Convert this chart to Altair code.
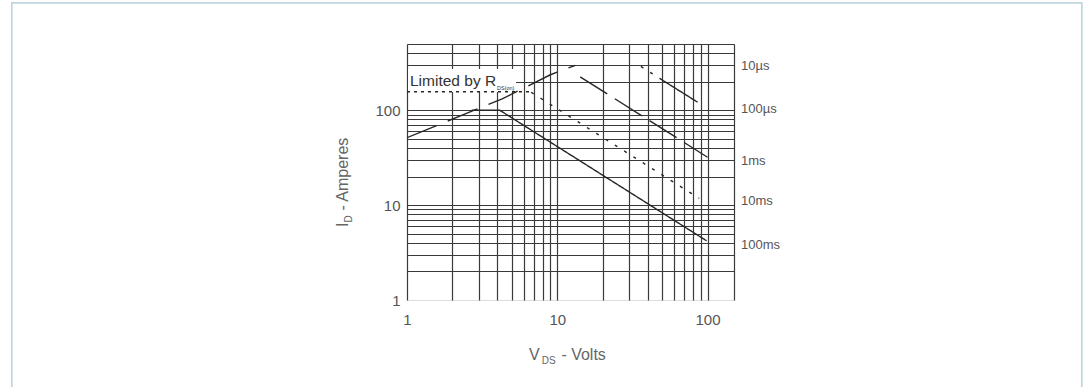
import altair as alt
import pandas as pd

# ---- data ----
x_grid = [1, 2, 3, 4, 5, 6, 7, 8, 9, 10, 20, 30, 40, 50, 60, 70, 80, 90, 100, 150]
y_grid = [1, 2, 3, 4, 5, 6, 7, 8, 9, 10, 20, 30, 40, 50, 60, 70, 80, 90,
          100, 200, 300, 400, 500]

rds_v = [1, 2.33, 4.3, 9.0, 13.2]
rds_i = [51.5, 89, 132, 237, 298]

limit_v = [1, 6.7]
limit_i = [157, 157]

ms1_v = [6.7, 88]
ms1_i = [155, 11.8]

dc_v = [2.7, 4.15, 98.5]
dc_i = [100, 100, 4.21]

us100_v = [14.2, 100]
us100_i = [225, 32]

us10a_v = [36, 48]
us10a_i = [290, 217]
us10b_v = [48, 86]
us10b_i = [217, 121.5]

right_labels = ["10µs", "100µs", "1ms", "10ms", "100ms"]
right_label_i = [290, 102, 29, 11, 3.8]

series = [
    ("rds", rds_v, rds_i),
    ("limit", limit_v, limit_i),
    ("ms1", ms1_v, ms1_i),
    ("dc", dc_v, dc_i),
    ("us100", us100_v, us100_i),
    ("us10a", us10a_v, us10a_i),
    ("us10b", us10b_v, us10b_i),
]
rows = []
for name, vs, is_ in series:
    for k, (v, i) in enumerate(zip(vs, is_)):
        rows.append({"s": name, "o": k, "v": v, "i": i})
df = pd.DataFrame(rows)

dash_domain = ["rds", "limit", "ms1", "dc", "us100", "us10a", "us10b"]
dash_range = [[32, 12], [3, 4], [3, 8], [1, 0], [32, 9], [3, 8], [1, 0]]

FONT = "Liberation Sans"
xscale = alt.Scale(type="log", domain=[1, 150], nice=False)
yscale = alt.Scale(type="log", domain=[1, 500], nice=False)

xaxis = alt.Axis(
    values=x_grid, grid=True, gridColor="#3a3a3a", gridWidth=1.2,
    domain=False, ticks=False, tickSize=0, format="d",
    labelExpr="(datum.value == 1 || datum.value == 10 || datum.value == 100) ? datum.label : ''",
    labelFont=FONT, labelFontSize=15, labelColor="#555555", labelPadding=12,
    labelOverlap=False, labelFlush=False, title=None,
)
yaxis = alt.Axis(
    values=y_grid, grid=True, gridColor="#3a3a3a", gridWidth=1.2,
    gridOpacity={"condition": {"test": "datum.value === 1", "value": 0}, "value": 1},
    domain=False, ticks=False, tickSize=0, format="d",
    labelExpr="(datum.value == 1 || datum.value == 10 || datum.value == 100) ? datum.label : ''",
    labelFont=FONT, labelFontSize=15, labelColor="#555555", labelPadding=7,
    labelOverlap=False, labelFlush=False, title=None,
)

one = alt.Data(values=[{}])


def txt(s, x, y, size, color, angle=0):
    return alt.Chart(one).mark_text(
        text=s, fontSize=size, color=color, align="left",
        baseline="alphabetic", angle=angle, font=FONT,
    ).encode(x=alt.value(x), y=alt.value(y))


frame = alt.Chart(one).mark_rect(
    fillOpacity=0, stroke="#bfd6de", strokeWidth=1.7
).encode(x=alt.value(-395.2), x2=alt.value(674.8),
         y=alt.value(-41.2), y2=alt.value(360))

box = alt.Chart(one).mark_rect(fill="white").encode(
    x=alt.value(1), x2=alt.value(109), y=alt.value(25), y2=alt.value(48)
)

lines = alt.Chart(df).mark_line(strokeWidth=1.4, color="#262626", clip=True).encode(
    x=alt.X("v:Q", scale=xscale, axis=xaxis),
    y=alt.Y("i:Q", scale=yscale, axis=yaxis),
    detail="s:N",
    order="o:Q",
    strokeDash=alt.StrokeDash("s:N", scale=alt.Scale(domain=dash_domain, range=dash_range), legend=None),
)

rl_df = pd.DataFrame({"lab": right_labels, "i": right_label_i})
rlabels = alt.Chart(rl_df).mark_text(
    align="left", baseline="middle", dx=7, fontSize=13, color="#555555", font=FONT
).encode(x=alt.datum(150), y=alt.Y("i:Q", scale=yscale), text="lab:N")

layers = [
    frame, box, lines, rlabels,
    txt("Limited by R", 3, 42, 15.5, "#333333"),
    txt("DS(on)", 90, 46, 5.5, "#333333"),
    txt("V", 122, 316, 16, "#666666"),
    txt("DS", 134.7, 319.5, 10, "#666666"),
    txt("- Volts", 154.4, 316, 16, "#666666"),
    txt("I", -59, 183, 16, "#666666", angle=270),
    txt("D", -55.5, 178.6, 10, "#666666", angle=270),
    txt("- Amperes", -59, 166.6, 16, "#666666", angle=270),
]

chart = alt.layer(*layers).properties(
    width=327, height=256,
    padding={"left": 407, "top": 44, "right": 352, "bottom": 87},
    autosize=alt.AutoSizeParams(type="none"),
).configure_view(stroke=None).configure(background="white")

chart.save("out.html", embed_options={"renderer": "svg", "actions": False})
